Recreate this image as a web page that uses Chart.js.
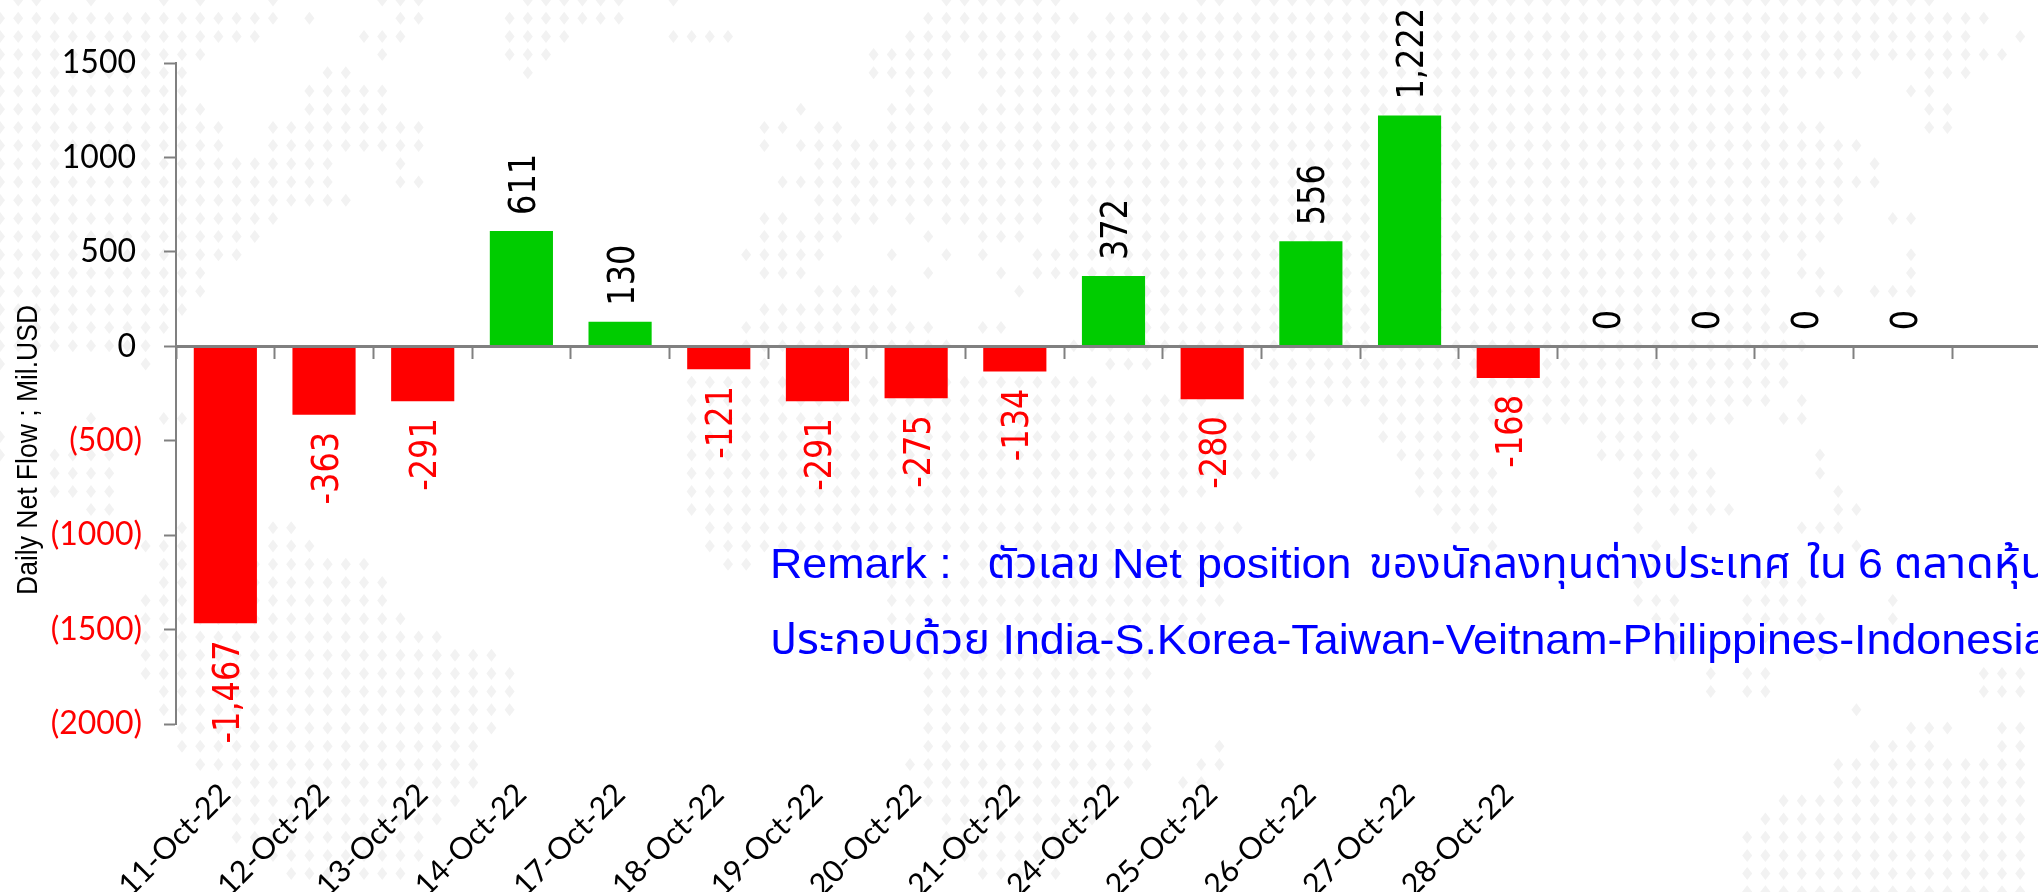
<!DOCTYPE html>
<html lang="th">
<head>
<meta charset="utf-8">
<title>Daily Net Flow</title>
<script src="https://cdn.jsdelivr.net/npm/chart.js@4"></script>
<style>
html,body{margin:0;padding:0;width:2038px;height:892px;overflow:hidden;background:#fff}
canvas{display:block}
</style>
</head>
<body>
<canvas id="c" width="2051" height="892"></canvas>
<script>
const categories = ["11-Oct-22","12-Oct-22","13-Oct-22","14-Oct-22","17-Oct-22","18-Oct-22","19-Oct-22","20-Oct-22","21-Oct-22","24-Oct-22","25-Oct-22","26-Oct-22","27-Oct-22","28-Oct-22","","","","",""];
const netFlow = [-1467,-363,-291,611,130,-121,-291,-275,-134,372,-280,556,1222,-168,0,0,0,0,null];
const yAxisTitle = "Daily Net Flow ; Mil.USD";
const remarkLine1 = [["Remark :",770],["ตัวเลข",987],["Net",1112],["position",1197],["ของนักลงทุนต่างประเทศ",1369,422],["ใน",1807],["6",1858],["ตลาดหุ้น",1894]];
const remarkLine2 = "ประกอบด้วย India-S.Korea-Taiwan-Veitnam-Philippines-Indonesia";
// decorative dotted world map: for each dot row, runs of dot columns
const mapRows = [
[[1,2],[5,5],[9,9],[11,11],[15,15],[21,23],[29,34],[37,37],[52,58],[66,67],[69,106]],
[[0,15],[17,17],[22,23],[28,34],[51,59],[61,109]],
[[0,14],[20,22],[28,31],[37,40],[50,58],[60,108],[111,111]],
[[0,11],[21,21],[28,30],[48,52],[54,110]],
[[0,10],[18,19],[29,29],[48,52],[54,102],[106,108]],
[[0,10],[17,21],[50,51],[55,98],[105,106]],
[[0,11],[17,21],[44,44],[49,51],[54,98],[106,107]],
[[0,12],[15,23],[42,43],[45,46],[49,100],[106,107]],
[[0,12],[15,23],[42,42],[44,102]],
[[0,18],[22,22],[45,101],[103,103]],
[[0,18],[22,23],[43,103]],
[[0,19],[45,57],[59,101]],
[[0,15],[42,43],[45,48],[50,50],[52,57],[59,101],[104,105]],
[[0,14],[42,46],[51,51],[54,56],[59,100]],
[[0,13],[41,45],[49,49],[52,52],[54,54],[57,97],[99,99],[105,105]],
[[0,11],[42,44],[51,51],[55,55],[57,97],[99,100],[105,105]],
[[0,11],[45,49],[56,56],[63,97],[100,101],[103,105]],
[[0,10],[42,49],[63,97]],
[[0,9],[41,51],[54,55],[63,98]],
[[0,8],[41,52],[59,99]],
[[0,0],[8,8],[42,42],[47,47],[61,63],[69,98]],
[[38,60],[70,98]],
[[38,61],[63,66],[69,97],[99,99]],
[[5,5],[9,10],[38,72],[76,95],[98,99]],
[[0,0],[38,72],[76,81],[88,92]],
[[0,0],[3,6],[38,72],[77,81],[88,93],[100,100]],
[[3,6],[38,70],[78,82],[90,94],[100,100]],
[[3,6],[38,66],[78,82],[90,94],[101,101]],
[[5,6],[38,64],[79,82],[90,90],[92,95],[101,102]],
[[10,10],[15,16],[39,68],[80,82],[90,90],[93,93],[99,101]],
[[8,10],[15,17],[39,67],[82,82],[91,91],[102,102]],
[[9,20],[40,41],[53,67],[90,92]],
[[9,21],[49,67],[90,90],[97,99]],
[[8,21],[49,67],[90,92],[96,99],[104,104]],
[[8,22],[49,66],[91,92],[96,100],[104,104]],
[[8,24],[50,66],[92,92],[97,100]],
[[8,27],[50,63],[92,92],[100,100]],
[[8,28],[51,63],[94,94],[96,97],[109,111]],
[[9,28],[51,62],[94,94],[96,97],[109,111]],
[[9,28],[51,63],[102,102]],
[[10,27],[51,63],[105,107],[110,111]],
[[10,26],[51,63],[67,67],[103,106],[110,111]],
[[11,26],[50,63],[66,67],[101,111]],
[[13,26],[51,62],[65,66],[101,111]],
[[13,25],[51,60],[98,111]],
[[13,24],[52,60],[97,111]],
[[13,23],[52,59],[96,111]],
[[14,23],[53,58],[96,111]],
[[16,22],[54,58],[96,111]],
[[96,111]]
];

const GREEN = "#00cc00", RED = "#ff0000", AXIS = "#808080", DOT = "#f2f2f2";

const backdrop = {
  id: "backdrop",
  beforeDraw(chart) {
    const ctx = chart.ctx, step = 18.2;
    ctx.save();
    ctx.fillStyle = DOT;
    mapRows.forEach((runs, k) => {
      runs.forEach(([a, b]) => {
        for (let j = a; j <= b; j++) {
          const x = j * step, y = k * step;
          ctx.beginPath();
          ctx.moveTo(x, y - 6.5); ctx.lineTo(x + 5, y); ctx.lineTo(x, y + 6.5); ctx.lineTo(x - 5, y);
          ctx.closePath(); ctx.fill();
        }
      });
    });
    ctx.restore();
  }
};

const valueLabels = {
  id: "valueLabels",
  afterDatasetsDraw(chart) {
    const ctx = chart.ctx;
    const bars = chart.getDatasetMeta(0).data;
    bars.forEach((bar, i) => {
      const v = netFlow[i];
      if (v === null) return;
      ctx.save();
      ctx.translate(bar.x + 4, v < 0 ? bar.y + 17 : bar.y - 16);
      ctx.rotate(-Math.PI / 2);
      ctx.scale(1, 1.15);
      ctx.font = "32px 'DejaVu Sans'";
      ctx.textBaseline = "middle";
      ctx.textAlign = v < 0 ? "right" : "left";
      ctx.fillStyle = v < 0 ? RED : "#000";
      ctx.fillText(v.toLocaleString("en-US"), 0, 0);
      ctx.restore();
    });
    // axis title
    ctx.save();
    ctx.translate(37, 595);
    ctx.rotate(-Math.PI / 2);
    ctx.scale(1, 1.12);
    ctx.font = "26.5px 'Liberation Sans'";
    ctx.textAlign = "left";
    ctx.textBaseline = "alphabetic";
    ctx.fillStyle = "#000";
    ctx.fillText(yAxisTitle, 0, 0);
    ctx.restore();
    // remark
    ctx.save();
    ctx.fillStyle = "#0000ff";
    ctx.textBaseline = "alphabetic";
    ctx.textAlign = "left";
    ctx.font = "40px 'Liberation Sans','Noto Sans','Noto Sans Thai','DejaVu Sans'";
    const sx = 1.12;
    const put = (t, x, y, w) => {
      ctx.save();
      ctx.translate(x, y);
      ctx.scale(sx, 1.08);
      if (w) ctx.fillText(t, 0, 0, w / sx); else ctx.fillText(t, 0, 0);
      ctx.restore();
    };
    remarkLine1.forEach(([t, x, w]) => put(t, x, 578, w));
    put(remarkLine2, 770, 654);
    ctx.restore();
  }
};

new Chart(document.getElementById("c"), {
  type: "bar",
  data: {
    labels: categories,
    datasets: [{
      data: netFlow,
      backgroundColor: netFlow.map(v => v < 0 ? RED : GREEN),
      barPercentage: 0.64,
      categoryPercentage: 1
    }]
  },
  plugins: [backdrop, valueLabels],
  options: {
    responsive: false,
    animation: false,
    devicePixelRatio: 1,
    layout: { padding: { top: 63, bottom: 168, left: 0, right: 0 } },
    plugins: { legend: { display: false }, tooltip: { enabled: false } },
    scales: {
      x: {
        position: { y: 0 },
        afterFit(scale) { scale.paddingLeft = 0; scale.paddingRight = 0; },
        grid: { offset: true, drawOnChartArea: false, drawTicks: true, tickLength: 11, tickColor: AXIS, tickWidth: 2, z: 1 },
        border: { color: AXIS, width: 3, z: 1 },
        ticks: {
          autoSkip: false, minRotation: 45, maxRotation: 45, padding: 419,
          color: "#000", font: { family: "Lato", size: 30.5 }
        }
      },
      y: {
        min: -2000, max: 1500,
        afterFit(scale) { scale.width = 176; scale.paddingTop = 0; scale.paddingBottom = 0; },
        grid: { drawOnChartArea: false, drawTicks: true, tickLength: 12, tickColor: AXIS, tickWidth: 2 },
        border: { color: AXIS, width: 2 },
        ticks: {
          stepSize: 500, padding: 22,
          color: c => c.tick.value < 0 ? RED : "#000",
          font: { family: "Lato", size: 32 },
          callback: v => v < 0 ? "(" + Math.abs(v) + ")" : v + "\u2009\u200a"
        }
      }
    }
  }
});
</script>
</body>
</html>
